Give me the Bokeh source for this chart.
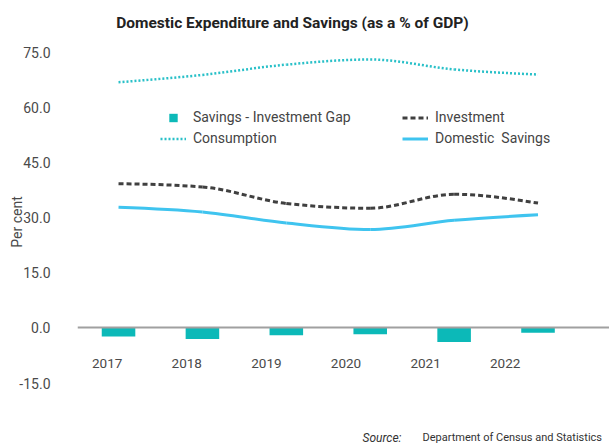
import numpy as np
from bokeh.plotting import figure
from bokeh.models import (ColumnDataSource, Range1d, LinearAxis, FixedTicker,
                          NumeralTickFormatter, Legend, LegendItem, Label)
from bokeh.embed import file_html
from bokeh.resources import INLINE

# ---------------- data ----------------
years = [2017, 2018, 2019, 2020, 2021, 2022]
year_labels = ["2017", "2018", "2019", "2020", "2021", "2022"]
gap = [-2.3, -3.0, -2.0, -1.7, -3.8, -1.3]
investment = [39.3, 38.4, 33.9, 32.6, 36.4, 34.0]
consumption = [66.9, 68.9, 71.7, 73.1, 70.4, 69.0]
savings = [32.9, 31.6, 28.6, 26.8, 29.3, 30.8]
y_ticks = [-15, 0, 15, 30, 45, 60, 75]

TITLE = "Domestic Expenditure and Savings (as a % of GDP)"
SOURCE_LBL = "Source:"
SOURCE_TXT = "Department of Census and Statistics"

FONT = "Roboto"


def monotone_bezier(xs, ys):
    """Control points of a monotone cubic (d3 monotoneX style) through the data."""
    x = np.asarray(xs, float)
    y = np.asarray(ys, float)
    n = len(x)
    h = np.diff(x)
    s = np.diff(y) / h
    m = np.zeros(n)
    for i in range(1, n - 1):
        p_ = (s[i - 1] * h[i] + s[i] * h[i - 1]) / (h[i - 1] + h[i])
        m[i] = (np.sign(s[i - 1]) + np.sign(s[i])) * min(abs(s[i - 1]), abs(s[i]), 0.5 * abs(p_))
    m[0] = (3 * s[0] - m[1]) / 2
    m[-1] = (3 * s[-1] - m[-2]) / 2
    return dict(x0=x[:-1], y0=y[:-1], x1=x[1:], y1=y[1:],
                cx0=x[:-1] + h / 3, cy0=y[:-1] + m[:-1] * h / 3,
                cx1=x[1:] - h / 3, cy1=y[1:] - m[1:] * h / 3)


p = figure(width=609, height=443, output_backend="svg", toolbar_location=None,
           x_axis_type=None,
           x_range=Range1d(2016.511, 2022.852), y_range=Range1d(-31.45, 89.16),
           min_border_left=77, min_border_right=0, min_border_top=0, min_border_bottom=0)
p.outline_line_color = None
p.xgrid.visible = False
p.ygrid.visible = False
p.background_fill_color = "white"

# year-label axis sitting on the zero line
p.extra_x_ranges = {"lab": Range1d(2016.627, 2023.310)}
xax = LinearAxis(x_range_name="lab", ticker=FixedTicker(ticks=years),
                 major_label_overrides={y: l for y, l in zip(years, year_labels)},
                 fixed_location=0)
xax.axis_line_color = "#a0a0a0"
xax.axis_line_width = 2
xax.major_tick_line_color = None
xax.minor_tick_line_color = None
xax.major_label_standoff = 25
xax.major_label_text_font = FONT
xax.major_label_text_font_size = "13.5px"
xax.major_label_text_color = "#4a4a4a"
p.add_layout(xax, "below")

# y axis
ya = p.yaxis[0]
ya.ticker = FixedTicker(ticks=y_ticks)
ya.formatter = NumeralTickFormatter(format="0.0")
ya.axis_line_color = None
ya.major_tick_line_color = None
ya.minor_tick_line_color = None
ya.major_label_standoff = 21
ya.major_label_text_font = FONT
ya.major_label_text_font_size = "14px"
ya.major_label_text_color = "#4a4a4a"
ya.axis_label = "Per cent"
ya.axis_label_text_font = FONT
ya.axis_label_text_font_size = "14px"
ya.axis_label_text_font_style = "normal"
ya.axis_label_text_color = "#4a4a4a"
ya.axis_label_standoff = -9

# bars
bar_src = ColumnDataSource(dict(x=years, top=gap))
bars = p.vbar(x="x", top="top", bottom=0, width=0.4, source=bar_src,
              fill_color="#0cb9b8", line_color=None)
# legend swatch for the bars (markers of size 0 are not drawn in the plot)
gap_proxy = p.scatter(x="x", y="top", source=bar_src, size=0, marker="square",
                      fill_color="#0cb9b8", line_color=None)

# smooth lines
cons = p.bezier(source=ColumnDataSource(monotone_bezier(years, consumption)),
                x0="x0", y0="y0", x1="x1", y1="y1", cx0="cx0", cy0="cy0", cx1="cx1", cy1="cy1",
                line_color="#29c0c8", line_width=2.5, line_dash="2 2")
inv = p.bezier(source=ColumnDataSource(monotone_bezier(years, investment)),
               x0="x0", y0="y0", x1="x1", y1="y1", cx0="cx0", cy0="cy0", cx1="cx1", cy1="cy1",
               line_color="#404040", line_width=3, line_dash="5 3")
sav = p.bezier(source=ColumnDataSource(monotone_bezier(years, savings)),
               x0="x0", y0="y0", x1="x1", y1="y1", cx0="cx0", cy0="cy0", cx1="cx1", cy1="cy1",
               line_color="#3fc4ef", line_width=3)

legend = Legend(items=[
    LegendItem(label="Savings - Investment Gap", renderers=[gap_proxy]),
    LegendItem(label="Investment", renderers=[inv]),
    LegendItem(label="Consumption", renderers=[cons]),
    LegendItem(label="Domestic  Savings", renderers=[sav]),
], orientation="horizontal", ncols=2, location=(83, 294.5))
legend.border_line_color = None
legend.background_fill_alpha = 0
legend.padding = 0
legend.margin = 0
legend.spacing = 0
legend.glyph_width = 26
legend.glyph_height = 21
legend.label_height = 21
legend.label_width = 209
legend.label_standoff = 7
legend.label_text_font = FONT
legend.label_text_font_size = "14px"
legend.label_text_color = "#444444"
p.add_layout(legend, "center")

# title and source (inside the full-height frame)
p.add_layout(Label(x=215, y=421, x_units="screen", y_units="screen", text=TITLE,
                   text_align="center", text_baseline="middle", text_font=FONT,
                   text_font_size="15.5px", text_font_style="bold", text_color="#222222"))
p.add_layout(Label(x=285, y=6, x_units="screen", y_units="screen", text=SOURCE_LBL,
                   text_align="left", text_baseline="middle", text_font=FONT,
                   text_font_size="12px", text_font_style="italic", text_color="#333333"))
p.add_layout(Label(x=345, y=6, x_units="screen", y_units="screen", text=SOURCE_TXT,
                   text_align="left", text_baseline="middle", text_font=FONT,
                   text_font_size="11px", text_color="#333333"))

open("out.html", "w").write(file_html(p, INLINE))
